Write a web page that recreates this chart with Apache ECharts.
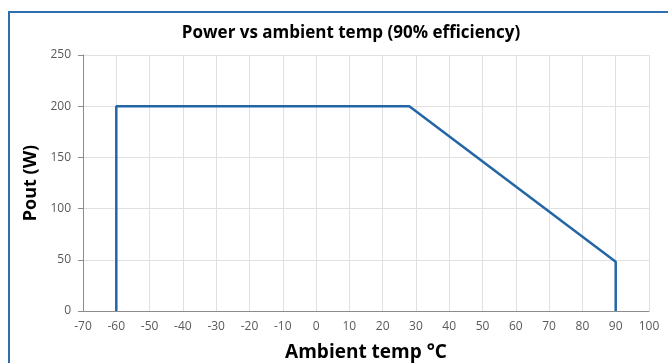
<!DOCTYPE html>
<html>
<head>
<meta charset="utf-8">
<script src="https://cdn.jsdelivr.net/npm/echarts@6/dist/echarts.min.js"></script>
<style>
  html, body { margin: 0; padding: 0; background: #fff; overflow: hidden; }
  #frame { position: absolute; left: 8px; top: 11px; width: 700px; height: 400px;
           border-left: 2px solid #2f6fb0; border-top: 2px solid #2f6fb0; }
  #chart { position: absolute; left: 0; top: 0; width: 668px; height: 363px; }
</style>
</head>
<body>
<div id="frame"></div>
<div id="chart"></div>
<script>
// Derating curve: ambient temperature (°C) vs output power (W)
const tempC = [-60, -60, 28, 90, 90];
const powerW = [0, 200, 200, 48, 0];

const chart = echarts.init(document.getElementById('chart'));
const font = '"Open Sans", "Liberation Sans", sans-serif';

const option = {
    animation: false,
    title: {
        text: 'Power vs ambient temp (90% efficiency)',
        left: 346,
        textAlign: 'center',
        top: 20,
        textStyle: { fontFamily: font, fontSize: 17, fontWeight: 'bold', color: '#000' }
    },
    grid: { left: 83, right: 19, top: 55, bottom: 52, outerBoundsMode: 'none', containLabel: false },
    xAxis: {
        type: 'value',
        min: -70, max: 100, interval: 10,
        name: 'Ambient temp °C',
        nameLocation: 'middle',
        nameGap: 32,
        nameTextStyle: { fontFamily: font, fontSize: 19, fontWeight: 'bold', color: '#000' },
        axisLine: { show: true, lineStyle: { color: '#8c8c8c', width: 1 } },
        axisTick: { show: false },
        axisLabel: { fontFamily: font, fontSize: 12, color: '#595959', margin: 10 },
        splitLine: { show: true, lineStyle: { color: '#e0e0e0' } }
    },
    yAxis: {
        type: 'value',
        min: 0, max: 250, interval: 50,
        name: 'Pout (W)',
        nameLocation: 'middle',
        nameGap: 40,
        nameTextStyle: { fontFamily: font, fontSize: 18, fontWeight: 'bold', color: '#000' },
        axisLine: { show: true, onZero: false, lineStyle: { color: '#8c8c8c', width: 1 } },
        axisTick: { show: true, length: 5, lineStyle: { color: '#8c8c8c' } },
        axisLabel: { fontFamily: font, fontSize: 12, color: '#595959', margin: 12 },
        splitLine: { show: true, lineStyle: { color: '#e0e0e0' } }
    },
    series: [{
        type: 'line',
        data: tempC.map((t, i) => [t, powerW[i]]),
        showSymbol: false,
        lineStyle: { color: '#2366a8', width: 2.5 },
        itemStyle: { color: '#2366a8' }
    }]
};

chart.setOption(option);
</script>
</body>
</html>
